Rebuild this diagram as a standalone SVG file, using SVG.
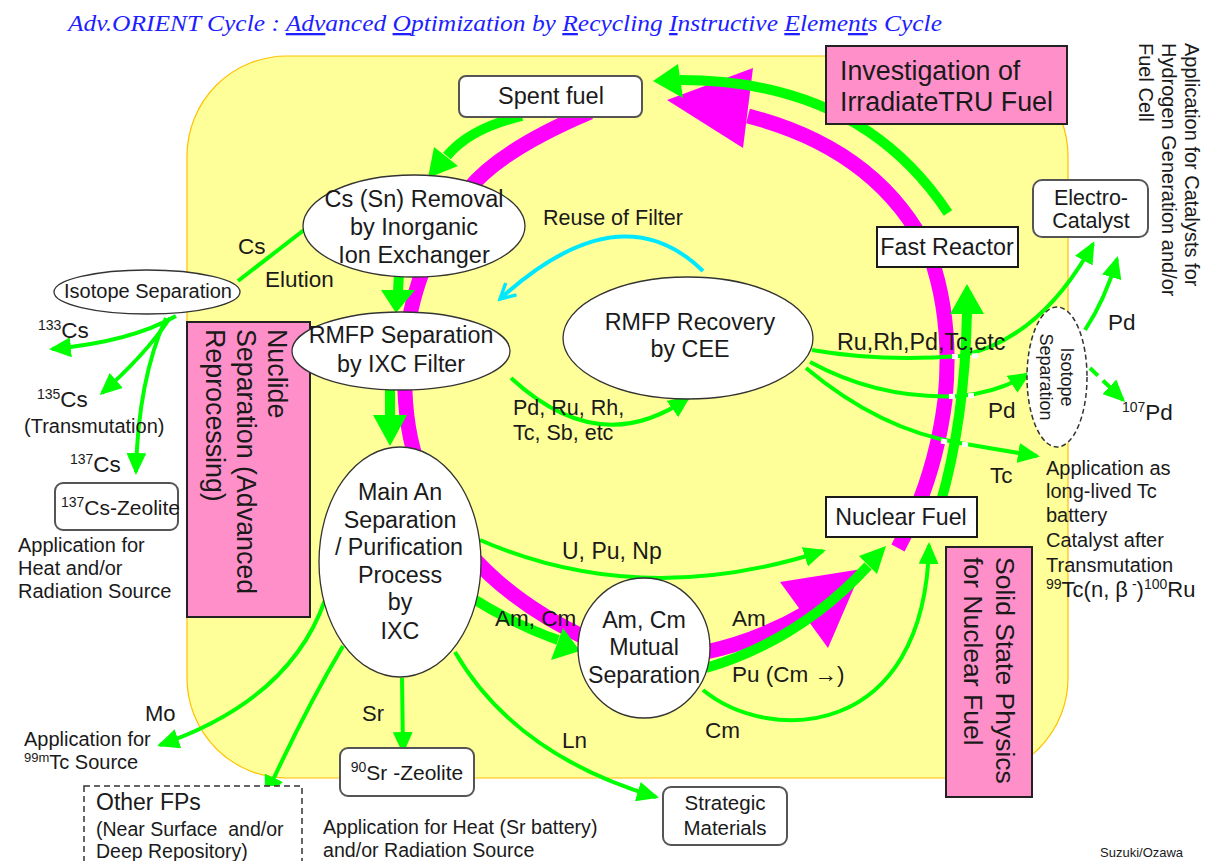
<svg xmlns="http://www.w3.org/2000/svg" width="1213" height="861" viewBox="0 0 1213 861">
<defs>
<style>
.t{font-family:"Liberation Sans",Arial,sans-serif;fill:#1a1a1a}
.g{fill:none;stroke:#00FF00;stroke-width:4}
.gt{fill:none;stroke:#00FF00;stroke-width:10}
.gf{fill:#00FF00}
.m{fill:none;stroke:#FF00FF;stroke-width:15}
.mf{fill:#FF00FF}
.gap{fill:none;stroke:#fff;stroke-width:5}
.rbox{fill:#fff;stroke:#555;stroke-width:2}
.box{fill:#fff;stroke:#1a1a1a;stroke-width:2}
.pink{fill:#FF8FC8;stroke:#222;stroke-width:2}
.el{fill:#fff;stroke:#333;stroke-width:1.3}
</style>
<marker id="ga" markerUnits="userSpaceOnUse" markerWidth="22" markerHeight="20" viewBox="0 0 22 20" refX="19" refY="10" orient="auto"><path d="M0,0 L22,10 L0,20 z" fill="#00FF00"/></marker>
<marker id="ca" markerUnits="userSpaceOnUse" markerWidth="20" markerHeight="20" viewBox="0 0 20 20" refX="17" refY="10" orient="auto"><path d="M2,2 L17,10 L2,18" fill="none" stroke="#00E8FF" stroke-width="3.5"/></marker>
</defs>
<rect width="1213" height="861" fill="#fff"/>
<text x="68" y="31" font-family="Liberation Serif,serif" font-style="italic" font-size="23" fill="#1E1EFF" textLength="874" lengthAdjust="spacingAndGlyphs">Adv.ORIENT Cycle : <tspan text-decoration="underline">Adv</tspan>anced <tspan text-decoration="underline">O</tspan>ptimization by <tspan text-decoration="underline">R</tspan>ecycling <tspan text-decoration="underline">I</tspan>nstructive <tspan text-decoration="underline">E</tspan>leme<tspan text-decoration="underline">nt</tspan>s Cycle</text>
<rect id="cycle-area" x="187" y="56" width="881" height="722" rx="100" ry="100" fill="#FFFF99" stroke="#FFC000" stroke-width="1.2"/>

<g id="connectors">
<path class="m" d="M 590 112 Q 500 150 468 190 Q 415 260 406 340 Q 400 420 420 470 Q 460 580 590 640"/>
<path class="m" d="M 706 652 Q 760 640 808 612"/>
<polygon class="mf" points="780,582 862,569 828,648"/>
<path class="m" d="M 898 548 Q 935 480 945 400 Q 953 320 930 255 Q 880 150 748 116"/>
<polygon class="mf" points="667,100 753,68 743,148"/>

<path class="gt" d="M 948 213 Q 860 80 680 80"/>
<polygon class="gf" points="653,81 678,64 683,98"/>
<path class="gt" d="M 522 116 Q 470 128 447 156"/>
<polygon class="gf" points="428,178 434,147 458,166"/>
<path class="gt" d="M 399 272 L 398 292"/>
<polygon class="gf" points="381,290 415,290 396,313"/>
<path class="gt" d="M 390 388 L 390 417"/>
<polygon class="gf" points="373,415 407,415 390,446"/>
<path class="gt" stroke-width="9" d="M 472 598 Q 515 625 558 640"/>
<polygon class="gf" points="551,660 563,628 580,651"/>
<path class="gt" d="M 706 668 Q 800 640 868 566"/>
<polygon class="gf" points="886,546 859,556 877,574"/>

<path class="g" d="M 304 230 L 238 281"/>
<path class="g" marker-end="url(#ga)" d="M 176 316 Q 130 342 52 349"/>
<path class="g" marker-end="url(#ga)" d="M 170 318 Q 145 355 102 393"/>
<path class="g" marker-end="url(#ga)" d="M 166 318 Q 138 380 136 472"/>
<path class="g" marker-end="url(#ga)" d="M 325 600 Q 290 700 160 745"/>
<path class="g" marker-end="url(#ga)" d="M 343 646 Q 305 710 266 795"/>
<path class="g" marker-end="url(#ga)" d="M 402 678 L 403 751"/>
<path class="g" marker-end="url(#ga)" d="M 455 652 Q 515 755 656 797"/>
<path class="g" marker-end="url(#ga)" d="M 480 540 Q 640 610 823 551"/>
<path class="g" marker-end="url(#ga)" d="M 703 690 C 770 745 925 740 929 545"/>
<path class="g" marker-end="url(#ga)" d="M 511 378 Q 600 460 688 398"/>
<path class="g" marker-end="url(#ga)" d="M 812 350 Q 880 362 960 356 Q 1040 340 1093 244"/>
<path class="g" marker-end="url(#ga)" d="M 810 362 Q 880 400 960 396 Q 1000 392 1028 374"/>
<path class="g" marker-end="url(#ga)" d="M 806 368 Q 880 430 960 443 Q 1000 450 1037 456"/>
<path class="g" marker-end="url(#ga)" d="M 1085 330 Q 1105 300 1117 259"/>
<path class="g" marker-end="url(#ga)" stroke-dasharray="11 7" d="M 1090 368 L 1123 400"/>
<path fill="none" stroke="#00E8FF" stroke-width="4" marker-end="url(#ca)" d="M 703 271 Q 620 190 500 299"/>

<path class="gap" d="M 952 356.6 L 958 356.4 M 972 356 L 978 355.6 M 949 396.5 L 955 396.3 M 968 395.8 L 974 395.6 M 941 441 L 947 442 M 962 444 L 968 445"/>
<path class="gt" d="M 940 505 Q 965 420 967 312"/>
<polygon class="gf" points="967,284 950,314 984,314"/>
</g>

<g id="n-investigation">
<rect class="pink" x="826" y="46" width="241" height="78"/>
<text class="t" x="840" y="80" font-size="26.8">Investigation of</text>
<text class="t" x="840" y="111" font-size="26.8">IrradiateTRU Fuel</text>
</g>
<g id="n-spent-fuel">
<rect class="rbox" x="459" y="76" width="183" height="41" rx="7"/>
<text class="t" x="551" y="104" font-size="23.5" text-anchor="middle">Spent fuel</text>
</g>
<g id="n-fast-reactor">
<rect class="box" x="877" y="227" width="141" height="40"/>
<text class="t" x="947" y="255" font-size="23.3" text-anchor="middle">Fast Reactor</text>
</g>
<g id="n-electro-catalyst">
<rect class="rbox" x="1033" y="180" width="115" height="57" rx="9"/>
<text class="t" x="1091" y="205" font-size="21.5" text-anchor="middle">Electro-</text>
<text class="t" x="1091" y="228" font-size="21.5" text-anchor="middle">Catalyst</text>
</g>
<g id="n-catalyst-note">
<text class="t" font-size="20" transform="translate(1185,43) rotate(90)">Application for Catalysts for</text>
<text class="t" font-size="20" transform="translate(1162,43) rotate(90)">Hydrogen Generation and/or</text>
<text class="t" font-size="20" transform="translate(1139,43) rotate(90)">Fuel Cell</text>
</g>
<g id="n-nuclide-separation">
<rect class="pink" x="187" y="322" width="123" height="295"/>
<text class="t" font-size="26.8" transform="translate(268,329) rotate(90)">Nuclide</text>
<text class="t" font-size="26.8" transform="translate(237,329) rotate(90)">Separation (Advanced</text>
<text class="t" font-size="26.8" transform="translate(206,329) rotate(90)">Reprocessing)</text>
</g>
<g id="n-solid-state">
<rect class="pink" x="946" y="547" width="86" height="250"/>
<text class="t" font-size="26.5" transform="translate(996,557) rotate(90)">Solid State Physics</text>
<text class="t" font-size="26.5" transform="translate(964,557) rotate(90)">for Nuclear Fuel</text>
</g>
<g id="n-cs-removal">
<ellipse class="el" cx="414" cy="226" rx="111" ry="51"/>
<text class="t" x="414" y="207" font-size="23.5" text-anchor="middle">Cs (Sn) Removal</text>
<text class="t" x="414" y="235" font-size="23.5" text-anchor="middle">by Inorganic</text>
<text class="t" x="414" y="263" font-size="23.5" text-anchor="middle">Ion Exchanger</text>
</g>
<g id="n-rmfp-separation">
<ellipse class="el" cx="401" cy="351" rx="109" ry="39"/>
<text class="t" x="401" y="343" font-size="23.3" text-anchor="middle">RMFP Separation</text>
<text class="t" x="401" y="372" font-size="23.3" text-anchor="middle">by IXC Filter</text>
</g>
<g id="n-rmfp-recovery">
<ellipse class="el" cx="688" cy="338" rx="125" ry="61"/>
<text class="t" x="690" y="330" font-size="23.3" text-anchor="middle">RMFP Recovery</text>
<text class="t" x="690" y="357" font-size="23.3" text-anchor="middle">by CEE</text>
</g>
<g id="n-main-an">
<ellipse class="el" cx="400" cy="562" rx="81" ry="115"/>
<text class="t" x="400" y="500" font-size="23.3" text-anchor="middle">Main An</text>
<text class="t" x="400" y="528" font-size="23.3" text-anchor="middle">Separation</text>
<text class="t" x="399" y="555" font-size="23.3" text-anchor="middle">/ Purification</text>
<text class="t" x="400" y="583" font-size="23.3" text-anchor="middle">Process</text>
<text class="t" x="400" y="610" font-size="23.3" text-anchor="middle">by</text>
<text class="t" x="400" y="639" font-size="23.3" text-anchor="middle">IXC</text>
</g>
<g id="n-amcm">
<ellipse class="el" cx="644" cy="648" rx="66" ry="70"/>
<text class="t" x="644" y="628" font-size="23.2" text-anchor="middle">Am, Cm</text>
<text class="t" x="644" y="655" font-size="23.2" text-anchor="middle">Mutual</text>
<text class="t" x="644" y="683" font-size="23.2" text-anchor="middle">Separation</text>
</g>
<g id="n-nuclear-fuel">
<rect class="box" x="826" y="497" width="151" height="40"/>
<text class="t" x="901" y="525" font-size="23.2" text-anchor="middle">Nuclear Fuel</text>
</g>
<g id="n-isotope-left">
<ellipse class="el" cx="147" cy="292" rx="93" ry="22"/>
<text class="t" x="148" y="298" font-size="20" text-anchor="middle">Isotope Separation</text>
</g>
<g id="n-isotope-right">
<ellipse fill="#fff" stroke="#333" stroke-width="1.5" stroke-dasharray="5 3" cx="1057" cy="377" rx="30" ry="70"/>
<text class="t" font-size="18" text-anchor="middle" transform="translate(1061,377) rotate(90)">Isotope</text>
<text class="t" font-size="18" text-anchor="middle" transform="translate(1040,377) rotate(90)">Separation</text>
</g>
<g id="n-cs-zeolite">
<rect class="rbox" x="55" y="483" width="123" height="47" rx="8"/>
<text class="t" x="61" y="515" font-size="21"><tspan font-size="14" dy="-8">137</tspan><tspan dy="8">Cs-Zeolite</tspan></text>
</g>
<g id="n-sr-zeolite">
<rect class="rbox" x="340" y="748" width="134" height="48" rx="8"/>
<text class="t" x="407" y="780" font-size="21" text-anchor="middle"><tspan font-size="14" dy="-8">90</tspan><tspan dy="8">Sr -Zeolite</tspan></text>
</g>
<g id="n-strategic">
<rect class="rbox" x="663" y="787" width="124" height="58" rx="8"/>
<text class="t" x="725" y="810" font-size="20.5" text-anchor="middle">Strategic</text>
<text class="t" x="725" y="835" font-size="20.5" text-anchor="middle">Materials</text>
</g>
<g id="n-other-fps">
<rect x="84" y="786" width="218" height="80" fill="#fff" stroke="#333" stroke-width="1.5" stroke-dasharray="6 4"/>
<text class="t" x="96" y="810" font-size="23">Other FPs</text>
<text class="t" x="96" y="836" font-size="19.5" xml:space="preserve">(Near Surface  and/or</text>
<text class="t" x="96" y="858" font-size="19.5">Deep Repository)</text>
</g>

<g id="labels" class="t">
<text x="238" y="254" font-size="22.5">Cs</text>
<text x="265" y="287" font-size="22.5">Elution</text>
<text x="38" y="338" font-size="22.5"><tspan font-size="14" dy="-8">133</tspan><tspan dy="8">Cs</tspan></text>
<text x="37" y="407" font-size="22.5"><tspan font-size="14" dy="-8">135</tspan><tspan dy="8">Cs</tspan></text>
<text x="24" y="433" font-size="20">(Transmutation)</text>
<text x="70" y="472" font-size="22.5"><tspan font-size="14" dy="-8">137</tspan><tspan dy="8">Cs</tspan></text>
<text x="18" y="552" font-size="20">Application for</text>
<text x="18" y="575" font-size="20">Heat and/or</text>
<text x="18" y="598" font-size="20">Radiation Source</text>
<text x="543" y="225" font-size="21.5">Reuse of Filter</text>
<text x="513" y="415" font-size="21.5">Pd, Ru, Rh,</text>
<text x="513" y="440" font-size="21.5">Tc, Sb, etc</text>
<text x="837" y="350" font-size="23.3">Ru,Rh,Pd,Tc,etc</text>
<text x="1108" y="330" font-size="22.5">Pd</text>
<text x="988" y="418" font-size="22.5">Pd</text>
<text x="990" y="483" font-size="22.5">Tc</text>
<text x="1122" y="420" font-size="22.5"><tspan font-size="14" dy="-8">107</tspan><tspan dy="8">Pd</tspan></text>
<text x="1046" y="475" font-size="20">Application as</text>
<text x="1046" y="498" font-size="20">long-lived Tc</text>
<text x="1046" y="522" font-size="20">battery</text>
<text x="1046" y="547" font-size="20">Catalyst after</text>
<text x="1046" y="572" font-size="20">Transmutation</text>
<text x="1046" y="597" font-size="22"><tspan font-size="14" dy="-8">99</tspan><tspan dy="8">Tc(n, β</tspan><tspan font-size="14" dy="-8"> -</tspan><tspan dy="8">)</tspan><tspan font-size="14" dy="-8">100</tspan><tspan dy="8">Ru</tspan></text>
<text x="562" y="559" font-size="23">U, Pu, Np</text>
<text x="495" y="626" font-size="22.5">Am, Cm</text>
<text x="732" y="626" font-size="22.5">Am</text>
<text x="732" y="682" font-size="22.5">Pu (Cm →)</text>
<text x="705" y="738" font-size="22.5">Cm</text>
<text x="562" y="748" font-size="22.5">Ln</text>
<text x="145" y="721" font-size="22">Mo</text>
<text x="362" y="721" font-size="22">Sr</text>
<text x="24" y="746" font-size="20">Application for</text>
<text x="24" y="769" font-size="20"><tspan font-size="13" dy="-7">99m</tspan><tspan dy="7">Tc Source</tspan></text>
<text x="323" y="834" font-size="19.6">Application for Heat (Sr battery)</text>
<text x="323" y="857" font-size="19.6">and/or Radiation Source</text>
<text x="1100" y="857" font-size="13">Suzuki/Ozawa</text>
</g>
</svg>
